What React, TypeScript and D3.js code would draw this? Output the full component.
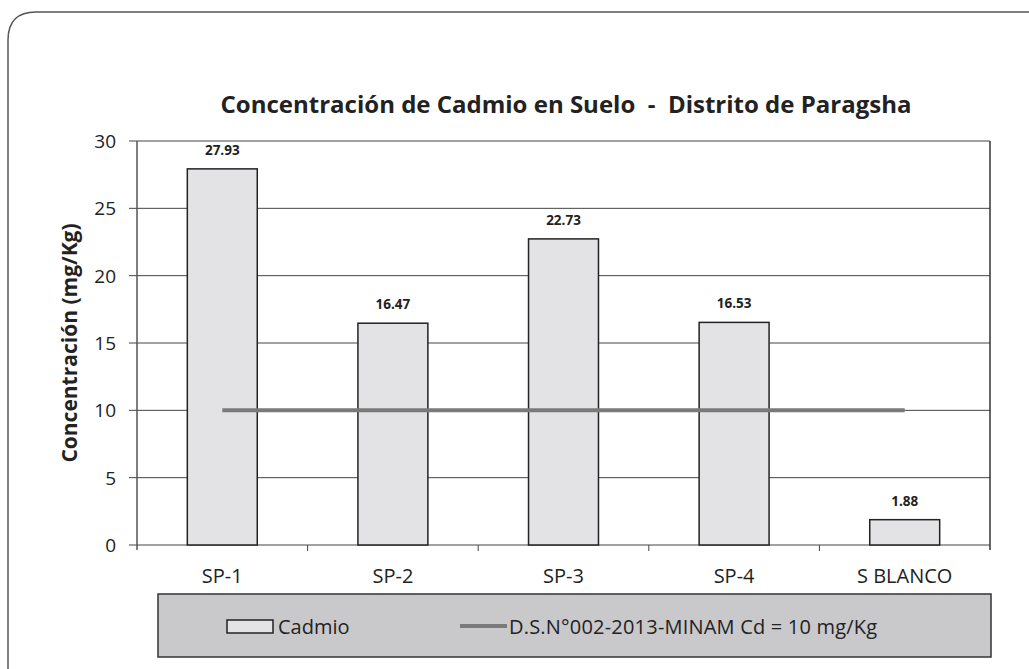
import React from "react";
import * as d3 from "d3";

const categories = ["SP-1", "SP-2", "SP-3", "SP-4", "S BLANCO"];
const cadmio = [27.93, 16.47, 22.73, 16.53, 1.88];
const limite = 10;
const yTicks = [0, 5, 10, 15, 20, 25, 30];

const W = 1029;
const H = 669;
const margin = { left: 137, right: 39, top: 141, bottom: 124 };
const font = "'Open Sans', 'DejaVu Sans', sans-serif";

export default function App() {
  const x = d3
    .scaleBand<string>()
    .domain(categories)
    .range([margin.left, W - margin.right])
    .paddingInner(0.59)
    .paddingOuter(0.295);
  const band = d3
    .scaleBand<string>()
    .domain(categories)
    .range([margin.left, W - margin.right]);
  const y = d3.scaleLinear().domain([0, 30]).range([H - margin.bottom, margin.top]);

  const line = d3
    .line<string>()
    .x((d) => (band(d) ?? 0) + band.bandwidth() / 2)
    .y(() => y(limite));

  const plotL = margin.left;
  const plotR = W - margin.right;

  return (
    <svg
      width={W}
      height={H}
      style={{ position: "absolute", left: 0, top: 0, background: "#fff" }}
      fontFamily={font}
    >
      <path
        d={`M8,${H} L8,40 Q8,12 36,12 L${W},12`}
        fill="none"
        stroke="#555"
        strokeWidth={1.5}
      />
      <text
        x={566}
        y={113}
        textAnchor="middle"
        fontSize={24}
        fontWeight="bold"
        fill="#222"
        style={{ whiteSpace: "pre" }}
      >
        Concentración de Cadmio en Suelo  -  Distrito de Paragsha
      </text>

      {/* grid + y ticks */}
      {yTicks.map((t) => (
        <g key={t}>
          <line x1={plotL - 8} x2={plotR} y1={y(t)} y2={y(t)} stroke="#444" strokeWidth={1} />
          <text x={116} y={y(t) + 7} textAnchor="end" fontSize={19} fill="#222">
            {t}
          </text>
        </g>
      ))}
      <line x1={plotL} x2={plotL} y1={y(30)} y2={y(0) + 5} stroke="#555" strokeWidth={1.5} />
      <line x1={plotR} x2={plotR} y1={y(30)} y2={y(0) + 5} stroke="#333" strokeWidth={1.5} />
      {categories.slice(1).map((c) => (
        <line
          key={c}
          x1={band(c)}
          x2={band(c)}
          y1={y(0)}
          y2={y(0) + 6}
          stroke="#444"
        />
      ))}

      {/* bars */}
      {categories.map((c, i) => (
        <g key={c}>
          <rect
            x={x(c)}
            y={y(cadmio[i])}
            width={x.bandwidth()}
            height={y(0) - y(cadmio[i])}
            fill="#e3e3e5"
            stroke="#222"
            strokeWidth={1.5}
          />
          <text
            x={(x(c) ?? 0) + x.bandwidth() / 2}
            y={y(cadmio[i]) - 14}
            textAnchor="middle"
            fontSize={13.5}
            fontWeight="bold"
            fill="#222"
          >
            {cadmio[i].toFixed(2)}
          </text>
          <text
            x={(band(c) ?? 0) + band.bandwidth() / 2}
            y={y(0) + 38}
            textAnchor="middle"
            fontSize={20}
            fill="#222"
          >
            {c}
          </text>
        </g>
      ))}

      <path d={line(categories) ?? ""} stroke="#7a7a7a" strokeWidth={4} fill="none" />

      <text
        transform={`translate(77,${(y(0) + y(30)) / 2}) rotate(-90)`}
        textAnchor="middle"
        fontSize={21}
        fontWeight="bold"
        fill="#222"
      >
        Concentración (mg/Kg)
      </text>

      {/* legend */}
      <rect x={158} y={594} width={833} height={63} fill="#c9c9cb" stroke="#333" strokeWidth={1.5} />
      <rect x={227} y={620} width={46} height={13} fill="#e3e3e5" stroke="#222" strokeWidth={1.5} />
      <text x={278} y={634} fontSize={20} fill="#222">
        Cadmio
      </text>
      <line x1={460} x2={507} y1={626} y2={626} stroke="#7a7a7a" strokeWidth={4} />
      <text x={509} y={634} fontSize={20} fill="#222" letterSpacing={0.2}>
        D.S.N°002-2013-MINAM Cd = 10 mg/Kg
      </text>
    </svg>
  );
}
